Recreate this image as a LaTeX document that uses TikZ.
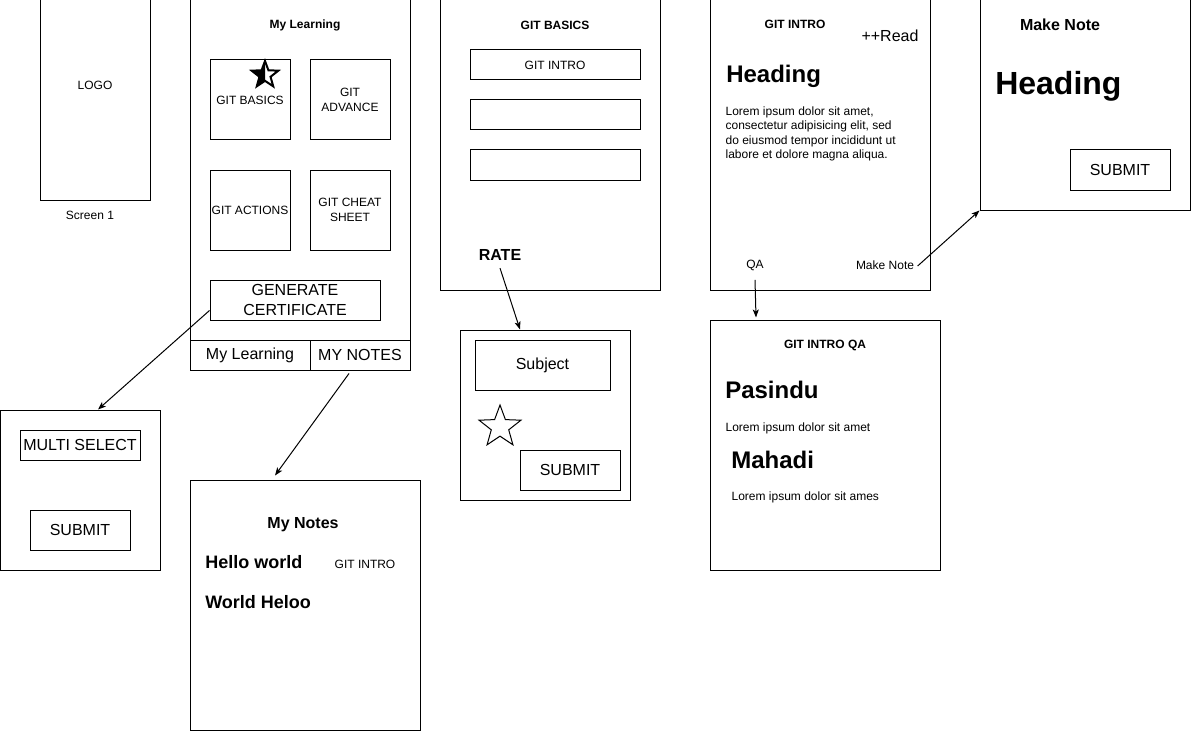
\documentclass[tikz,border=0pt]{standalone}
\usepackage{fontspec}
\setmainfont{Liberation Sans}
\usetikzlibrary{calc,shapes.geometric,arrows.meta}

\tikzset{
  frame/.style 2 args={draw, line width=0.75pt, minimum width=#1*0.75pt,
    minimum height=#2*0.75pt, inner sep=0pt, align=center},
  txt/.style={font=\fontsize{9}{11}\selectfont, inner sep=1pt, align=center},
  txtbig/.style={font=\fontsize{12}{14.6}\selectfont, inner sep=1pt, align=center},
  ttl/.style={font=\fontsize{9}{11}\selectfont\bfseries, inner sep=1pt},
  ttlbig/.style={font=\fontsize{12}{14.6}\selectfont\bfseries, inner sep=1pt},
  hd/.style={font=\fontsize{13.5}{16}\selectfont\bfseries, inner sep=0pt, anchor=west},
  hdbig/.style={font=\fontsize{18}{21}\selectfont\bfseries, inner sep=0pt, anchor=west},
  link/.style={line width=0.75pt, -{Stealth[length=6pt, width=4.5pt, inset=1.5pt]}}
}

\begin{document}
\begin{tikzpicture}[x=0.75pt, y=-0.75pt]
  \useasboundingbox (0,0) rectangle (1191,731);

  % screen 1
  \node[frame={110}{200}] (logoscr) at (95,100) {};
  \node[txt] (logolbl) at (95,85) {LOGO};
  \node[txt] (scrcap) at (90,215) {Screen 1};

  % my learning
  \node[frame={220}{370}] (learnscr) at (300,185) {};
  \node[ttl] (learnttl) at (305,25) {My Learning};
  \node[frame={80}{80}, txt] (basics) at (250,100) {GIT BASICS};
  \node[frame={80}{80}, txt] (advance) at (350,100) {GIT\\ADVANCE};
  \node[frame={80}{80}, txt] (actions) at (250,210) {GIT ACTIONS};
  \node[frame={80}{80}, txt] (cheat) at (350,210) {GIT CHEAT\\SHEET};
  \begin{scope}
    \clip (250,55) rectangle (265,95);
    \node[star, star point ratio=2.4, minimum size=28*0.75pt, inner sep=0pt,
      fill=black] at (265,75) {};
  \end{scope}
  \node[star, star point ratio=2.4, minimum size=28*0.75pt, inner sep=0pt,
    draw, line width=1.5pt] (favstar) at (265,75) {};
  \node[frame={170}{40}, txtbig] (gencert) at (295,300) {GENERATE\\CERTIFICATE};
  \node[frame={120}{30}, txtbig] (learntab) at (250,355) {My Learning};
  \node[frame={100}{30}, txtbig] (notestab) at (360,355) {MY NOTES};

  % git basics
  \node[frame={220}{290}] (basicscr) at (550,145) {};
  \node[ttl] (basicttl) at (555,25) {GIT BASICS};
  \node[frame={170}{30}, txt] (introbtn) at (555,65) {GIT INTRO};
  \node[frame={170}{30}] (blankone) at (555,115) {};
  \node[frame={170}{30}] (blanktwo) at (555,165) {};
  \node[ttlbig] (ratelbl) at (500,255) {RATE};

  % rating
  \node[frame={170}{170}] (ratescr) at (545,415) {};
  \node[frame={135}{50}, txtbig] (subject) at (542.5,365) {Subject};
  \node[star, star point ratio=2.4, minimum size=44*0.75pt, inner sep=0pt,
    draw, line width=0.75pt] (ratestar) at (500,427) {};
  \node[frame={100}{40}, txtbig] (ratesubmit) at (570,470) {SUBMIT};

  % git intro
  \node[frame={220}{290}] (introscr) at (820,145) {};
  \node[ttl] (introttl) at (795,24) {GIT INTRO};
  \node[txtbig] (readlbl) at (890,36) {++Read};
  \node[hdbig] (introhd) at (726,76) {Heading};
  \node[txt, anchor=west, align=left, font=\fontsize{9}{10.9}\selectfont] (introtxt) at (724,134)
    {Lorem ipsum dolor sit amet,\\consectetur adipisicing elit, sed\\do eiusmod tempor incididunt ut\\labore et dolore magna aliqua.};
  \node[txt] (qalbl) at (755,265) {QA};
  \node[txt] (notelbl) at (885,265) {Make Note};

  % make note
  \node[frame={210}{210}] (notescr) at (1085,105) {};
  \node[ttlbig] (notettl) at (1060,25) {Make Note};
  \node[hdbig, font=\fontsize{24}{28}\selectfont\bfseries] (notehd) at (995,86) {Heading};
  \node[frame={100}{40}, txtbig] (notesubmit) at (1120,170) {SUBMIT};

  % git intro qa
  \node[frame={230}{250}] (qascr) at (825,445) {};
  \node[ttl] (qattl) at (825,345) {GIT INTRO QA};
  \node[hdbig] (qaone) at (725,390) {Pasindu};
  \node[txt, anchor=west] (qaonetxt) at (724,428) {Lorem ipsum dolor sit amet};
  \node[hdbig] (qatwo) at (731,460) {Mahadi};
  \node[txt, anchor=west] (qatwotxt) at (730,497) {Lorem ipsum dolor sit ames};

  % certificate
  \node[frame={160}{160}] (multiscr) at (80,490) {};
  \node[frame={120}{30}, txtbig] (multisel) at (80,445) {MULTI SELECT};
  \node[frame={100}{40}, txtbig] (multisubmit) at (80,530) {SUBMIT};

  % my notes
  \node[frame={230}{250}] (mynotescr) at (305,605) {};
  \node[ttlbig] (mynotettl) at (303,525) {My Notes};
  \node[hd] (noteone) at (205,562) {Hello world};
  \node[txt] (noteonetag) at (365,564) {GIT INTRO};
  \node[hd] (notetwo) at (205,602) {World Heloo};

  % flows
  \draw[link] (gencert.187) -- ($(multiscr.north)+(18,0)$);
  \draw[link] ($(notestab.south)+(-11,3)$) -- ($(mynotescr.north)+(-30,-4)$);
  \draw[link] ($(ratelbl.south)+(0,6)$) -- ($(ratescr.north)+(-25,0)$);
  \draw[link] ($(qalbl.south)+(0,8)$) -- ($(qascr.north)+(-69,-2)$);
  \draw[link] ($(notelbl.east)+(2,1)$) -- (notescr.south west);
\end{tikzpicture}
\end{document}
